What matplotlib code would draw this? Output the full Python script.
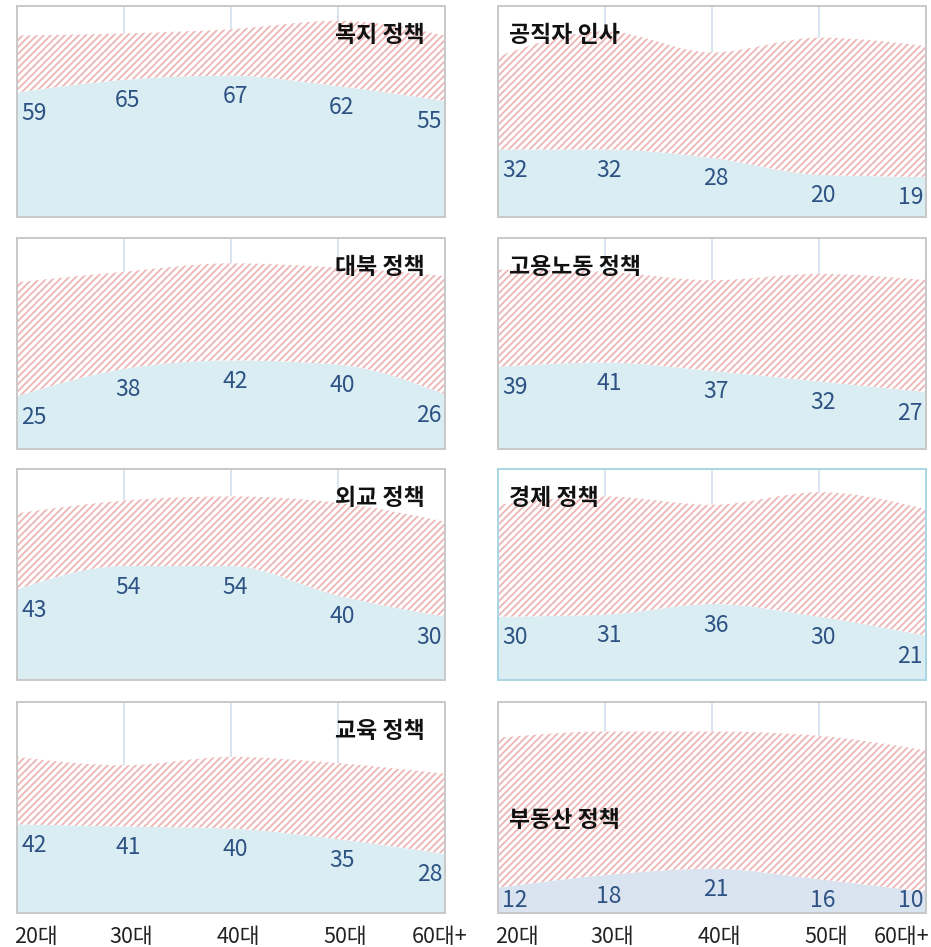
import matplotlib
matplotlib.use("Agg")
import matplotlib.pyplot as plt
import numpy as np
from matplotlib.path import Path
from matplotlib.patches import PathPatch
from matplotlib.collections import LineCollection

plt.rcParams["font.family"] = ["Noto Sans CJK KR", "DejaVu Sans"]

# 연령대
ages = ["20대", "30대", "40대", "50대", "60대+"]

# 분야 (왼쪽 열, 오른쪽 열 순서로 한 줄씩)
titles = ["복지 정책", "공직자 인사", "대북 정책", "고용노동 정책",
          "외교 정책", "경제 정책", "교육 정책", "부동산 정책"]

# 긍정 평가 (%)
welfare_pos = [59, 65, 67, 62, 55]
personnel_pos = [32, 32, 28, 20, 19]
north_pos = [25, 38, 42, 40, 26]
labor_pos = [39, 41, 37, 32, 27]
foreign_pos = [43, 54, 54, 40, 30]
economy_pos = [30, 31, 36, 30, 21]
education_pos = [42, 41, 40, 35, 28]
housing_pos = [12, 18, 21, 16, 10]

# 부정 평가 (%)
welfare_neg = [27, 22, 22, 31, 31]
personnel_neg = [44, 56, 50, 65, 62]
north_neg = [54, 46, 46, 46, 56]
labor_neg = [46, 43, 43, 51, 53]
foreign_neg = [36, 31, 33, 44, 45]
economy_neg = [53, 56, 47, 59, 60]
education_neg = [32, 29, 34, 36, 38]
housing_neg = [71, 68, 65, 68, 67]

positives = [welfare_pos, personnel_pos, north_pos, labor_pos,
             foreign_pos, economy_pos, education_pos, housing_pos]
negatives = [welfare_neg, personnel_neg, north_neg, labor_neg,
             foreign_neg, economy_neg, education_neg, housing_neg]

BLUE = "#daedf3"
BLUE_HOUSING = "#dae3f0"
HATCH = "#eeb7b7"
LABEL = "#2d5283"
GRID = "#d6e2ef"
BORDER = "#c8c8c8"
BORDER_HL = "#a9d6e3"

W, H = 931, 947
PANEL_W, PANEL_H = 428, 211
STRIPE_GAP = 7  # px, horizontal distance between hatch stripes


def monotone_curve(x, y):
    """Bezier points for a monotone-x curve (same idea as d3.curveMonotoneX)."""
    x = np.asarray(x, float)
    y = np.asarray(y, float)
    n = len(x)
    h = np.diff(x)
    s = np.diff(y) / h
    t = np.zeros(n)
    for i in range(1, n - 1):
        p = (s[i - 1] * h[i] + s[i] * h[i - 1]) / (h[i - 1] + h[i])
        t[i] = (np.sign(s[i - 1]) + np.sign(s[i])) * min(abs(s[i - 1]), abs(s[i]), 0.5 * abs(p))
    t[0] = (3 * s[0] - t[1]) / 2
    t[-1] = (3 * s[-1] - t[-2]) / 2
    verts = [(x[0], y[0])]
    for i in range(n - 1):
        dx = (x[i + 1] - x[i]) / 3
        verts += [(x[i] + dx, y[i] + dx * t[i]),
                  (x[i + 1] - dx, y[i + 1] - dx * t[i + 1]),
                  (x[i + 1], y[i + 1])]
    return verts


def draw_panel(ax, title, pos, neg, col, highlight=False):
    xs = np.arange(len(pos))
    total = [p + n for p, n in zip(pos, neg)]

    ax.set_xlim(0, len(pos) - 1)
    ax.set_ylim(0, 100)
    ax.set_xticks(xs)
    ax.set_yticks([])
    ax.tick_params(length=0, labelbottom=False)
    ax.grid(axis="x", color=GRID, lw=1.3, zorder=0)
    for sp in ax.spines.values():
        sp.set_color(BORDER_HL if highlight else BORDER)
        sp.set_linewidth(1.4)
        sp.set_zorder(5)

    # 긍정 영역
    top = monotone_curve(xs, pos)
    verts = top + [(xs[-1], 0), (xs[0], 0), top[0]]
    codes = [Path.MOVETO] + [Path.CURVE4] * (len(top) - 1) + [Path.LINETO, Path.LINETO, Path.CLOSEPOLY]
    face = BLUE_HOUSING if title == "부동산 정책" else BLUE
    ax.add_patch(PathPatch(Path(verts, codes), facecolor=face, edgecolor="none", lw=0, zorder=2))

    # 부정 영역 (빗금)
    upper = monotone_curve(xs, total)
    lower = top[::-1]
    verts = upper + lower + [upper[0]]
    codes = ([Path.MOVETO] + [Path.CURVE4] * (len(upper) - 1)
             + [Path.LINETO] + [Path.CURVE4] * (len(lower) - 1) + [Path.CLOSEPOLY])
    neg_patch = PathPatch(Path(verts, codes), facecolor="white", edgecolor="none", lw=0, zorder=2)
    ax.add_patch(neg_patch)

    segs = []
    for c in np.arange(-PANEL_H, PANEL_W + STRIPE_GAP, STRIPE_GAP):
        segs.append([(c / PANEL_W, 0), ((c + PANEL_H) / PANEL_W, 1)])
    stripes = LineCollection(segs, colors=HATCH, linewidths=1.35, transform=ax.transAxes, zorder=2.5)
    stripes.set_clip_path(neg_patch)
    ax.add_collection(stripes)

    # 값 라벨 (곡선 아래, 바닥에 닿지 않게)
    drop = 21 / PANEL_H * 100
    floor = 13 / PANEL_H * 100
    for i, v in enumerate(pos):
        if i == 0:
            ha, dx = "left", 4
        elif i == len(pos) - 1:
            ha, dx = "right", -3
        else:
            ha, dx = "center", 4
        ax.annotate(str(v), (i, max(v - drop, floor)), xytext=(dx, 0), textcoords="offset pixels",
                    ha=ha, va="center", fontsize=16.5, color=LABEL, zorder=4)

    # 제목
    ty = 1 - 29 / PANEL_H
    if col == 0:
        tx, ha = 1 - 20 / PANEL_W, "right"
    else:
        tx, ha = 11 / PANEL_W, "left"
        if title == "부동산 정책":
            ty = 1 - 118 / PANEL_H
    ax.text(tx, ty, title, transform=ax.transAxes, ha=ha, va="center",
            fontsize=16.5, fontweight="bold", color="#111111", zorder=4)


fig = plt.figure(figsize=(W / 100, H / 100), dpi=100)

col_left = [17, 498]
row_bottom = [217, 449, 680, 913]

for k, title in enumerate(titles):
    r, c = divmod(k, 2)
    ax = fig.add_axes([col_left[c] / W, 1 - row_bottom[r] / H, PANEL_W / W, PANEL_H / H])
    draw_panel(ax, title, positives[k], negatives[k], c, highlight=(title == "경제 정책"))

    if r == 3:
        trans = ax.get_xaxis_transform()
        for i, lab in enumerate(ages):
            if i == 0:
                ha, dx = "left", -3
            elif i == len(ages) - 1:
                ha, dx = "right", (22 if c == 0 else 3)
            else:
                ha, dx = "center", 7
            ax.annotate(lab, (i, 0), xycoords=trans, xytext=(dx, -24), textcoords="offset pixels",
                        ha=ha, va="center", fontsize=15.5, color="#222222", annotation_clip=False)

fig.savefig("out.png", dpi=100)
plt.close(fig)
